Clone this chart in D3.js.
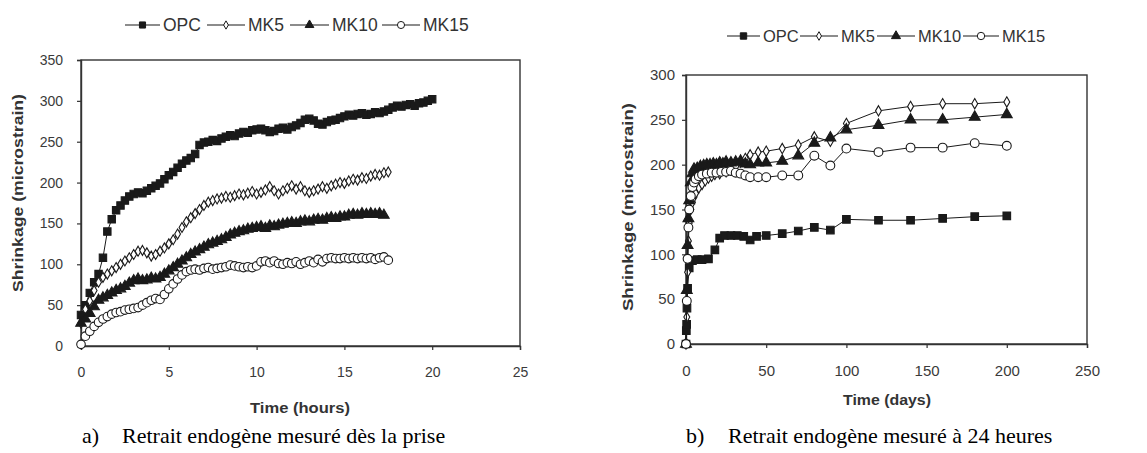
<!DOCTYPE html>
<html><head><meta charset="utf-8">
<script src="https://cdn.jsdelivr.net/npm/d3@7"></script>
<style>body{margin:0;background:#fff}svg{display:block}</style>
</head><body><svg id="c" width="1147" height="453"></svg>
<script>
const seriesNames = ["OPC","MK5","MK10","MK15"];

// ---- chart a) : time in hours ----
const hoursGrid = [0,0.25,0.5,0.75,1,1.25,1.5,1.75,2,2.25,2.5,2.75,3,3.25,3.5,3.75,4,4.25,4.5,4.75,5,5.25,5.5,5.75,6,6.25,6.5,6.75,7,7.25,7.5,7.75,8,8.25,8.5,8.75,9,9.25,9.5,9.75,10,10.25,10.5,10.75,11,11.25,11.5,11.75,12,12.25,12.5,12.75,13,13.25,13.5,13.75,14,14.25,14.5,14.75,15,15.25,15.5,15.75,16,16.25,16.5,16.75,17,17.25,17.5,17.75,18,18.25,18.5,18.75,19,19.25,19.5,19.75,20];
const hOPC = [38,50,65,78,88,108,140,155,166,172,178,183,186,188,187,190,193,196,199,204,209,213,218,223,227,230,235,246,249,250,252,251,254,256,258,257,260,262,261,264,265,266,264,262,263,266,267,265,268,270,273,277,278,276,272,271,274,276,277,279,281,283,282,284,285,283,284,286,285,287,289,292,294,293,295,296,294,297,298,300,302];
const hMK5 = [28,45,55,68,78,84,88,92,96,100,104,108,112,116,117,114,110,112,116,120,125,130,137,145,152,157,162,167,172,176,178,180,181,183,182,184,186,185,187,189,186,188,191,195,190,186,190,193,196,192,195,190,188,190,192,195,193,196,198,200,199,202,204,203,206,205,208,210,209,212,213];
const hMK10 = [28,33,40,48,56,59,62,65,68,70,73,77,80,82,80,81,83,82,84,88,92,96,100,104,108,112,115,118,121,124,126,128,130,133,136,138,140,141,143,144,145,146,144,147,146,148,149,150,151,150,152,153,152,154,155,154,156,157,156,158,158,160,161,160,162,161,162,161,162,160];
const hMK15 = [2,12,18,24,29,33,36,39,41,42,44,45,46,47,50,53,56,58,57,63,70,76,82,87,91,93,94,93,95,96,94,95,96,97,99,98,97,96,97,96,98,103,104,102,104,101,100,102,101,103,100,102,104,102,106,103,107,108,107,107,108,107,108,107,108,107,108,106,108,109,105];
const hoursTicks = [0,5,10,15,20,25];
const hoursYTicks = [0,50,100,150,200,250,300,350];

// ---- chart b) : time in days ----
const dOPCx = [0,0.2,0.4,0.6,1,2,4,7,10,14,18,21,24,28,32,36,40,44,50,60,70,80,90,100,120,140,160,180,200];
const dOPCy = [0,15,22,40,62,85,93,94,94,95,105,118,121,121,121,120,116,120,121,123,126,130,127,139,138,138,140,142,143];
const dMK5x = [0,0.5,1,1.5,2,3,4,5,6,8,10,12,14,16,18,21,25,28,31,34,37,40,45,50,60,70,80,90,100,120,140,160,180,200];
const dMK5y = [0,30,80,115,135,150,158,164,168,174,178,182,185,187,189,190,192,195,198,203,207,211,214,215,218,222,231,226,246,260,265,268,268,270];
const dMK10x = [0,0.5,1,1.5,2,3,4,5,7,9,11,13,15,17,19,21,23,25,28,31,34,37,40,45,50,60,70,80,90,100,120,140,160,180,200];
const dMK10y = [0,60,110,140,160,180,190,195,196,198,199,200,200,201,200,202,201,203,202,203,204,201,200,202,202,204,210,224,230,239,244,250,250,253,256];
const dMK15x = [0,0.5,1,1.5,2,3,4,5,6,8,10,13,16,19,22,25,28,31,34,37,40,45,50,60,70,80,90,100,120,140,160,180,200];
const dMK15y = [0,48,95,130,150,165,175,180,184,187,189,190,191,191,192,192,193,191,190,188,186,186,186,188,188,210,199,218,214,219,219,224,221];
const daysTicks = [0,50,100,150,200,250];
const daysYTicks = [0,50,100,150,200,250,300];

const svg = d3.select("#c");
const INK = "#1a1a1a";
const FONT = "'Liberation Sans', Arial, sans-serif";

const markerDefs = {
  OPC:  {type: d3.symbolSquare,   size: 34, fill: INK},
  MK5:  {type: d3.symbolDiamond,  size: 18, fill: "#fff"},
  MK10: {type: d3.symbolTriangle, size: 30, fill: INK},
  MK15: {type: d3.symbolCircle,   size: 36, fill: "#fff"}
};

function drawChart(cfg) {
  const g = svg.append("g");
  const x = d3.scaleLinear().domain(cfg.xDomain).range([cfg.left, cfg.right]);
  const y = d3.scaleLinear().domain(cfg.yDomain).range([cfg.bottom, cfg.top]);

  g.append("rect").attr("x", cfg.left).attr("y", cfg.top)
    .attr("width", cfg.right - cfg.left).attr("height", cfg.bottom - cfg.top)
    .attr("fill", "none").attr("stroke", "#333").attr("stroke-width", 1.4);

  const xAxis = d3.axisBottom(x).tickValues(cfg.xTicks).tickSize(4).tickPadding(cfg.xPad).tickFormat(d3.format("d"));
  const yAxis = d3.axisLeft(y).tickValues(cfg.yTicks).tickSize(4).tickPadding(cfg.yPad).tickFormat(d3.format("d"));
  const gx = g.append("g").attr("transform", `translate(0,${cfg.bottom})`).call(xAxis);
  const gy = g.append("g").attr("transform", `translate(${cfg.left},0)`).call(yAxis);
  [gx, gy].forEach(a => {
    a.select(".domain").attr("stroke", "#333").attr("stroke-width", 1.4);
    a.selectAll(".tick line").attr("stroke", "#333").attr("stroke-width", 1.2);
    a.selectAll(".tick text").attr("fill", "#3a3a3a").style("font-family", FONT).style("font-size", cfg.tickFont + "px");
  });

  const line = d3.line().x(d => x(d[0])).y(d => y(d[1]));
  cfg.series.forEach(s => {
    const pts = s.xs.map((v, i) => [v, s.ys[i]]);
    g.append("path").datum(pts).attr("d", line).attr("fill", "none").attr("stroke", INK).attr("stroke-width", 1);
    const m = markerDefs[s.name];
    g.selectAll(null).data(pts).join("path")
      .attr("transform", d => `translate(${x(d[0])},${y(d[1])})`)
      .attr("d", d3.symbol().type(m.type).size(m.size * cfg.markScale))
      .attr("fill", m.fill).attr("stroke", INK).attr("stroke-width", 1.1);
  });

  g.append("text").attr("x", cfg.xTitleX).attr("y", cfg.xTitleY).attr("text-anchor", "middle")
    .attr("fill", "#333").style("font-family", FONT).style("font-weight", "bold").style("font-size", "14px")
    .attr("textLength", cfg.xTitleLen).attr("lengthAdjust", "spacingAndGlyphs")
    .text(cfg.xTitle);
  g.append("text").attr("transform", `translate(${cfg.yTitleX},${cfg.yTitleY}) rotate(-90)`)
    .attr("text-anchor", "middle").attr("fill", "#333")
    .style("font-family", FONT).style("font-weight", "bold").style("font-size", "14px")
    .attr("textLength", cfg.yTitleLen).attr("lengthAdjust", "spacingAndGlyphs")
    .text("Shrinkage (microstrain)");

  const lg = g.append("g");
  cfg.legendPos.forEach((p, i) => {
    const name = seriesNames[i];
    const m = markerDefs[name];
    lg.append("line").attr("x1", p[0]).attr("x2", p[1]).attr("y1", cfg.legendY).attr("y2", cfg.legendY)
      .attr("stroke", INK).attr("stroke-width", 1.2);
    lg.append("path").attr("transform", `translate(${(p[0] + p[1]) / 2},${cfg.legendY})`)
      .attr("d", d3.symbol().type(m.type).size(m.size * cfg.legendMark))
      .attr("fill", m.fill).attr("stroke", INK).attr("stroke-width", 1);
    lg.append("text").attr("x", p[1] + 3).attr("y", cfg.legendY).attr("dy", "0.36em")
      .attr("fill", "#333").style("font-family", FONT).style("font-size", cfg.legendFont + "px")
      .text(name);
  });

  const cap = g.append("text").attr("y", cfg.capY).attr("fill", "#000")
    .style("font-family", "'Liberation Serif', 'Times New Roman', serif").style("font-size", "22px");
  cap.append("tspan").attr("x", cfg.capX).text(cfg.capLabel);
  cap.append("tspan").attr("x", cfg.capX + cfg.capGap).text(cfg.caption);
}

drawChart({
  left: 81, right: 520, top: 60, bottom: 346,
  xDomain: [0, 25], yDomain: [0, 350],
  xTicks: hoursTicks, yTicks: hoursYTicks, tickFont: 14, xPad: 17, yPad: 14,
  series: [
    {name: "OPC", xs: hoursGrid.slice(0, hOPC.length), ys: hOPC},
    {name: "MK5", xs: hoursGrid.slice(0, hMK5.length), ys: hMK5},
    {name: "MK10", xs: hoursGrid.slice(0, hMK10.length), ys: hMK10},
    {name: "MK15", xs: hoursGrid.slice(0, hMK15.length), ys: hMK15}
  ],
  markScale: 1.6, legendMark: 1.1,
  xTitle: "Time (hours)", xTitleX: 300, xTitleY: 413, xTitleLen: 100,
  yTitleX: 23, yTitleY: 193, yTitleLen: 198,
  legendY: 25, legendFont: 17.5,
  legendPos: [[125, 160], [207, 245], [290, 329], [382, 420]],
  capX: 82, capY: 443, capGap: 40, capLabel: "a)", caption: "Retrait endogène mesuré dès la prise"
});

drawChart({
  left: 686, right: 1087, top: 75, bottom: 344,
  xDomain: [0, 250], yDomain: [0, 300],
  xTicks: daysTicks, yTicks: daysYTicks, tickFont: 15, xPad: 17, yPad: 7,
  series: [
    {name: "OPC", xs: dOPCx, ys: dOPCy},
    {name: "MK5", xs: dMK5x, ys: dMK5y},
    {name: "MK10", xs: dMK10x, ys: dMK10y},
    {name: "MK15", xs: dMK15x, ys: dMK15y}
  ],
  markScale: 1.7, legendMark: 1.2,
  xTitle: "Time (days)", xTitleX: 887, xTitleY: 405, xTitleLen: 88,
  yTitleX: 633, yTitleY: 207, yTitleLen: 208,
  legendY: 36, legendFont: 16.5,
  legendPos: [[727, 760], [800, 838], [877, 915], [963, 999]],
  capX: 686, capY: 443, capGap: 42, capLabel: "b)", caption: "Retrait endogène mesuré à 24 heures"
});
</script>
</body></html>
